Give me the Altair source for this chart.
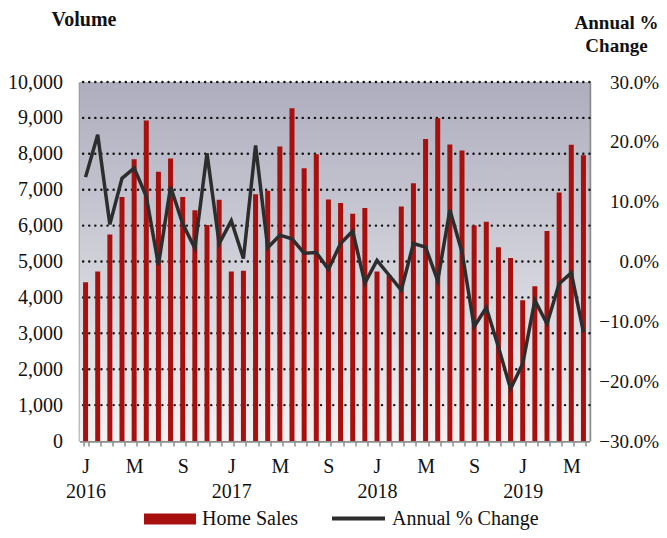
import altair as alt
import pandas as pd

months = [f"{y}-{m:02d}" for y in range(2016, 2020) for m in range(1, 13)][:42]

home_sales = [4420, 4720, 5750, 6800, 7850, 8930, 7500, 7870, 6800, 6430, 6020, 6720,
              4720, 4740, 6870, 6970, 8200, 9270, 7600, 7990, 6730, 6630, 6330, 6490,
              4720, 4620, 6530, 7180, 8410, 8990, 8260, 8090, 6000, 6110, 5400, 5100,
              3920, 4310, 5850, 6920, 8250, 7960]

annual_change = [14.1, 21.2, 6.2, 13.9, 15.6, 10.9, -0.6, 12.5, 6.3, 2.2, 18.1, 3.0,
                 6.8, 0.5, 19.4, 2.3, 4.4, 3.8, 1.4, 1.5, -1.3, 3.0, 5.1, -3.6,
                 0.2, -2.3, -4.8, 3.0, 2.4, -3.2, 8.6, 1.6, -10.9, -7.7, -14.3, -21.3,
                 -17.1, -6.5, -10.4, -3.7, -1.9, -11.8]

volume_ticks = list(range(0, 10001, 1000))
grid_values = list(range(1000, 10001, 1000))
pct_ticks = [-0.3, -0.2, -0.1, 0, 0.1, 0.2, 0.3]

df = pd.DataFrame({
    "month": months,
    "sales": home_sales,
    "chg": [v / 100 for v in annual_change],
    "s1": ["Home Sales"] * len(months),
    "s2": ["Annual % Change"] * len(months),
})
grid_df = pd.DataFrame({"sales": grid_values})
bg_df = pd.DataFrame({"a": [0]})

FONT = "Liberation Serif"
W, H = 510, 359
GRAY = "#8c8c8c"
TXT = "#111111"

label_expr = ("substring(datum.value,5,7)=='01' ? ['J', substring(datum.value,0,4)] : "
              "substring(datum.value,5,7)=='05' ? 'M' : "
              "substring(datum.value,5,7)=='09' ? 'S' : ''")

x = alt.X("month:O", scale=alt.Scale(paddingInner=0.6, paddingOuter=0.3),
          axis=alt.Axis(title=None, labelAngle=0, labelExpr=label_expr, labelOverlap=False,
                        tickBand="extent", ticks=True, tickSize=5, tickColor=GRAY,
                        tickWidth=1.5, domainColor=GRAY, domainWidth=2.5,
                        labelPadding=10, labelLineHeight=25, labelFontSize=20,
                        labelBaseline="top", labelFont=FONT, labelColor=TXT))

y_axis = alt.Axis(title="Volume", titleAngle=0, titleAlign="center", titleBaseline="middle",
                  titleX=4, titleY=-63, titleFont=FONT, titleFontSize=20,
                  titleFontWeight="bold", titleColor=TXT,
                  values=volume_ticks, labelExpr="format(datum.value, ',')", ticks=False,
                  labelPadding=17, labelFont=FONT, labelFontSize=20, labelColor=TXT,
                  domainColor=GRAY, domainWidth=2.5, grid=False)
y_scale = alt.Scale(domain=[0, 10000], nice=False)

bg = alt.Chart(bg_df).mark_rect(
    fill=alt.LinearGradient(gradient="linear", x1=0, x2=0, y1=0, y2=1,
                            stops=[alt.GradientStop(offset=0, color="#adadbe"),
                                   alt.GradientStop(offset=1, color="#f3f3f4")])
).encode(x=alt.value(0), x2=alt.value(W), y=alt.value(0), y2=alt.value(H))

grid = alt.Chart(grid_df).mark_rule(
    color=TXT, strokeDash=[0.1, 6], strokeWidth=2.4, strokeCap="round"
).encode(y=alt.Y("sales:Q", scale=y_scale, axis=y_axis))

bars = alt.Chart(df).mark_bar(size=5).encode(
    x=x,
    y=alt.Y("sales:Q", scale=y_scale, axis=y_axis),
    color=alt.Color("s1:N", scale=alt.Scale(domain=["Home Sales"], range=["#a8100e"]),
                    legend=alt.Legend(title=None, orient="none", legendX=64.5, legendY=411,
                                      symbolType="M-1,-0.21H1V0.21H-1Z", symbolSize=2704,
                                      symbolStrokeWidth=0, labelFont=FONT, labelFontSize=20,
                                      labelColor=TXT, labelOffset=6, padding=0)),
)

line = alt.Chart(df).mark_line(strokeWidth=3.5, color="#2d2d2d").encode(
    x=x,
    y=alt.Y("chg:Q", scale=alt.Scale(domain=[-0.3, 0.3], nice=False),
            axis=alt.Axis(orient="right", title=["Annual %", "Change"], titleAngle=0,
                          titleAlign="center", titleBaseline="top", titleX=26.5, titleY=-69,
                          titleLineHeight=23,
                          titleFont=FONT, titleFontSize=19, titleFontWeight="bold",
                          titleColor=TXT,
                          values=pct_ticks, format=".1%", labelAlign="right",
                          ticks=False, labelPadding=69, labelFont=FONT, labelFontSize=19,
                          labelColor=TXT, domainColor=GRAY, domainWidth=2.5,
                          grid=False)),
    stroke=alt.Stroke("s2:N", scale=alt.Scale(domain=["Annual % Change"], range=["#2d2d2d"]),
                      legend=alt.Legend(title=None, orient="none", legendX=250.5, legendY=408,
                                        symbolType="stroke", symbolSize=2809,
                                        symbolStrokeWidth=4, labelFont=FONT,
                                        labelFontSize=20, labelColor=TXT,
                                        labelOffset=5, padding=0)),
)

left = alt.layer(bg, grid, bars)

chart = alt.layer(left, line).resolve_scale(
    y="independent", color="independent", stroke="independent"
).properties(
    width=W, height=H,
    autosize=alt.AutoSizeParams(type="none"),
    padding={"left": 71.5, "top": 74, "right": 69.5, "bottom": 89},
    background="white",
).configure_view(stroke=None)

chart.save("out.html", embed_options={"renderer": "svg", "actions": False})
